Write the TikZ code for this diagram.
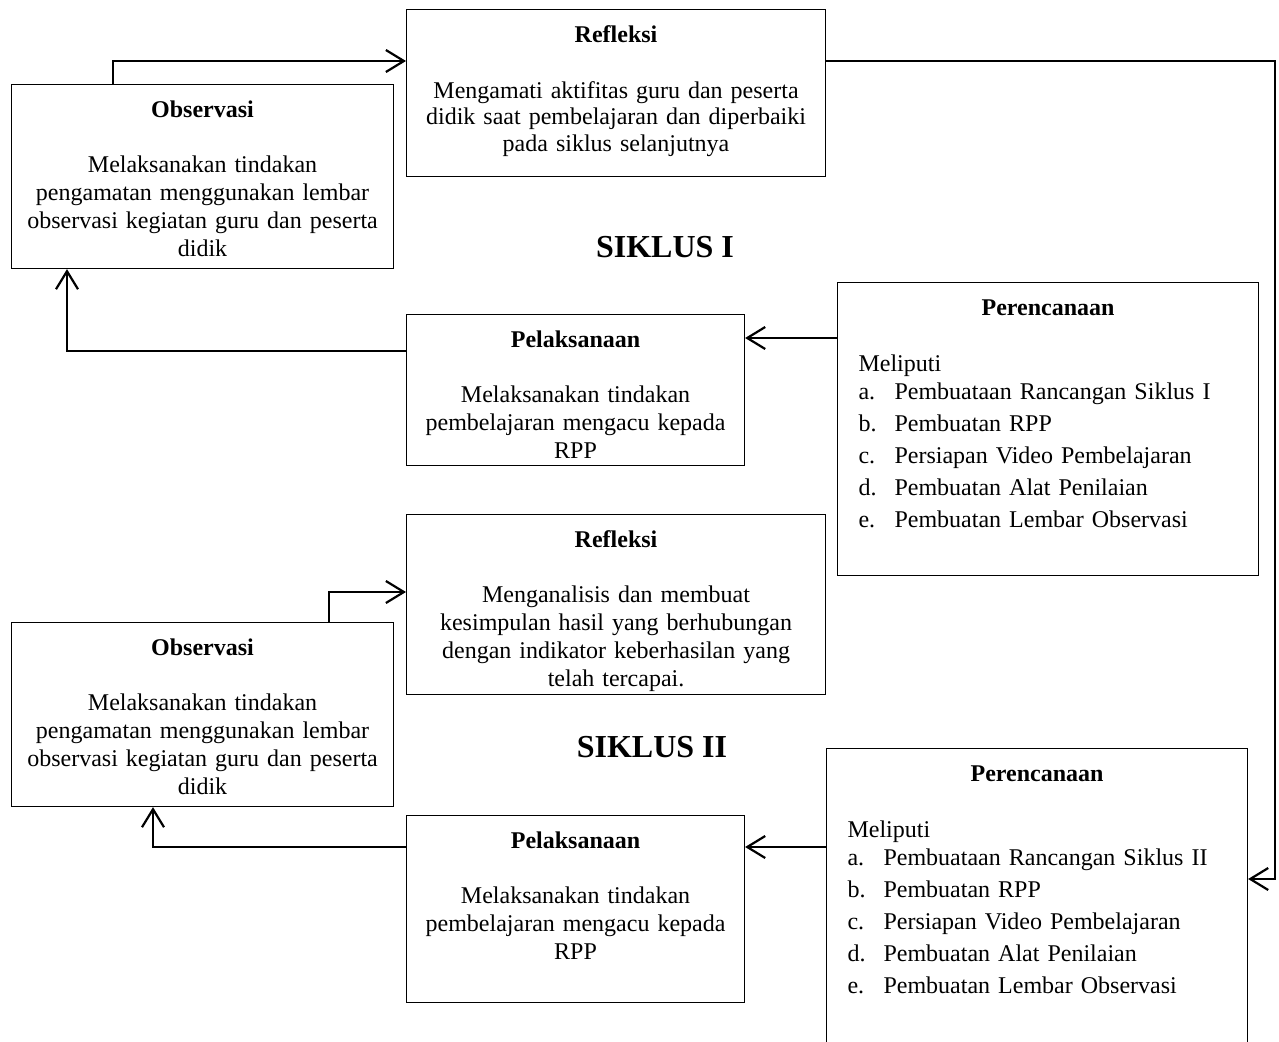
\documentclass[tikz,border=0pt]{standalone}
\usepackage{fontspec}
\setmainfont{Liberation Serif}
\usepackage{tikz}
\usetikzlibrary{arrows.meta}
\tikzset{
  panel/.style args={#1,#2}{
  draw=black,
  line width=1.1pt,
  rectangle,
  inner xsep=0pt,
  inner ysep=0pt,
  text width=#1,
  text height=33pt,
  text depth=#2,
  align=center,
  anchor=north west
  },
  planpanel/.style args={#1,#2}{
  panel={#1,#2},
  inner xsep=21pt,
  align=left
  },
  link/.style={->,line width=2.2pt},
  >={Straight Barb[length=18pt,width=22pt]},
  siklus/.style={font=\fontsize{32}{36}\selectfont\bfseries,anchor=base},
  every node/.style={font=\fontsize{24}{28}\selectfont}
}
\newcommand{\itm}[1]{\makebox[36pt][l]{#1}}

\begin{document}
\begin{tikzpicture}[x=1pt,y=-1pt]
  \useasboundingbox (0,0) rectangle (1279,1041);

  % siklus I
  \node [panel={382pt,151pt}] (obs1) at (11,84)
    {\textbf{Observasi}\\[27pt]Melaksanakan tindakan\\pengamatan menggunakan lembar\\observasi kegiatan guru dan peserta\\didik};
  \node [panel={419pt,134pt},font=\fontsize{24}{26.5}\selectfont] (ref1) at (406,9)
    {\textbf{Refleksi}\\[29pt]Mengamati aktifitas guru dan peserta\\didik saat pembelajaran dan diperbaiki\\pada siklus selanjutnya};
  \node [panel={338pt,118pt}] (pel1) at (406,314)
    {\textbf{Pelaksanaan}\\[27pt]Melaksanakan tindakan\\pembelajaran mengacu kepada\\RPP};
  \node [planpanel={379pt,260pt}] (per1) at (837,282)
    {\makebox[\linewidth][c]{\textbf{Perencanaan}}\\[28pt]Meliputi\\
     \itm{a.}Pembuataan Rancangan Siklus I\\[4pt]
     \itm{b.}Pembuatan RPP\\[4pt]
     \itm{c.}Persiapan Video Pembelajaran\\[4pt]
     \itm{d.}Pembuatan Alat Penilaian\\[4pt]
     \itm{e.}Pembuatan Lembar Observasi};
  \node [siklus] (sik1) at (665,257) {SIKLUS I};

  % siklus II
  \node [panel={382pt,151pt}] (obs2) at (11,622)
    {\textbf{Observasi}\\[27pt]Melaksanakan tindakan\\pengamatan menggunakan lembar\\observasi kegiatan guru dan peserta\\didik};
  \node [panel={419pt,147pt}] (ref2) at (406,514)
    {\textbf{Refleksi}\\[27pt]Menganalisis dan membuat\\kesimpulan hasil yang berhubungan\\dengan indikator keberhasilan yang\\telah tercapai.};
  \node [panel={338pt,154pt}] (pel2) at (406,815)
    {\textbf{Pelaksanaan}\\[27pt]Melaksanakan tindakan\\pembelajaran mengacu kepada\\RPP};
  \node [planpanel={379pt,287pt}] (per2) at (826,748)
    {\makebox[\linewidth][c]{\textbf{Perencanaan}}\\[28pt]Meliputi\\
     \itm{a.}Pembuataan Rancangan Siklus II\\[4pt]
     \itm{b.}Pembuatan RPP\\[4pt]
     \itm{c.}Persiapan Video Pembelajaran\\[4pt]
     \itm{d.}Pembuatan Alat Penilaian\\[4pt]
     \itm{e.}Pembuatan Lembar Observasi};
  \node [siklus] (sik2) at (652,757) {SIKLUS II};

  \draw [link] ([xshift=102pt]obs1.north west) |- ([yshift=-52pt]ref1.north west);
  \draw [link] ([yshift=-52pt]ref1.north east) -| ([xshift=27pt,yshift=-131pt]per2.north east) -- ([yshift=-131pt]per2.north east);
  \draw [link] ([yshift=-56pt]per1.north west) -- ([yshift=-24pt]pel1.north east);
  \draw [link] ([yshift=-37pt]pel1.north west) -| ([xshift=56pt]obs1.south west);

  \draw [link] ([xshift=318pt]obs2.north west) |- ([yshift=-78pt]ref2.north west);
  \draw [link] ([yshift=-99pt]per2.north west) -- ([yshift=-32pt]pel2.north east);
  \draw [link] ([yshift=-32pt]pel2.north west) -| ([xshift=142pt]obs2.south west);
%  \draw [link] (per1.south) -- (ref2.north);
\end{tikzpicture}
\end{document}
